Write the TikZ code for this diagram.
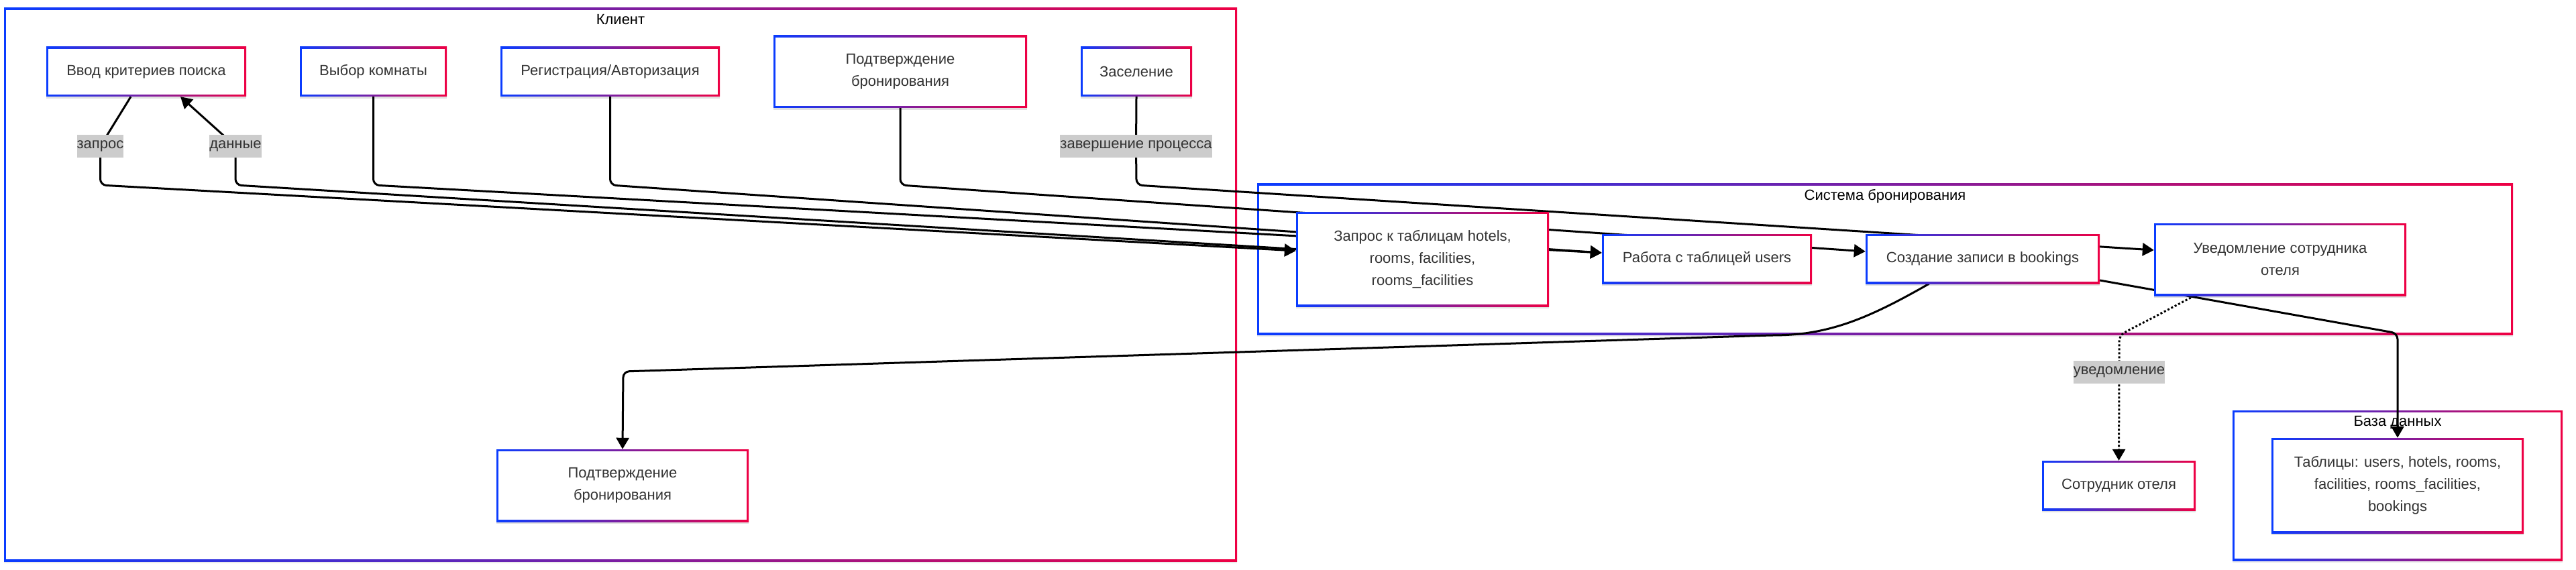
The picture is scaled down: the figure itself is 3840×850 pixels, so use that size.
\documentclass[tikz,border=0pt]{standalone}
\usepackage{fontspec}
\setmainfont{Liberation Sans}
\usetikzlibrary{arrows.meta,shadows,calc}
\definecolor{cblue}{HTML}{0A3CFF}
\definecolor{cred}{HTML}{EE0044}
\definecolor{ctext}{HTML}{333333}
\definecolor{cgray}{HTML}{CCCCCC}
\pgfdeclarelayer{bg}
\pgfdeclarelayer{edges}
\pgfsetlayers{bg,edges,main}
\newcommand{\dfont}{\fontsize{22pt}{33pt}\selectfont}
\tikzset{
  gbox/.style={rectangle, inner sep=0pt, align=center, text=ctext, font=\dfont,
    left color=cblue, right color=cred,
    drop shadow={opacity=0.12, shadow xshift=0pt, shadow yshift=-3pt, fill=black},
    path picture={\fill[white] ([shift={(3pt,-3pt)}]path picture bounding box.north west) rectangle ([shift={(-3pt,3pt)}]path picture bounding box.south east);}},
  cluster/.style={rectangle, inner sep=0pt,
    left color=cblue, right color=cred,
    drop shadow={opacity=0.08, shadow xshift=0pt, shadow yshift=-3pt, fill=black},
    path picture={\fill[white] ([shift={(3pt,-3pt)}]path picture bounding box.north west) rectangle ([shift={(-3pt,3pt)}]path picture bounding box.south east);}},
  clabel/.style={inner sep=0pt, text=black, font=\dfont},
  elabel/.style={fill=cgray, text=ctext, inner xsep=0pt, inner ysep=0pt, minimum height=34pt, font=\dfont},
  edge/.style={draw=black, line width=3pt, rounded corners=9pt},
  arr/.style={-{Triangle[length=17pt,width=19pt]}},
}
\begin{document}
\begin{tikzpicture}[x=1pt,y=-1pt]
\useasboundingbox (0,0) rectangle (3840,850);
% clusters
\begin{pgfonlayer}{bg}
\fill[white] (0,0) rectangle (3840,850);
\node[cluster, minimum width=1838pt, minimum height=825pt] (client) at (925,424.5) {};
\node[cluster, minimum width=1872pt, minimum height=225pt] (sys) at (2810,386.5) {};
\node[cluster, minimum width=492pt, minimum height=224pt] (db) at (3574,724) {};
\node[clabel] (clientlbl) at (925,29) {Клиент};
\node[clabel] (syslbl) at (2810,293) {Система бронирования};
\node[clabel] (dblbl) at (3574,630) {База данных};
\end{pgfonlayer}
% nodes
\node[gbox, minimum width=298pt, minimum height=74pt] (A) at (218,107) {Ввод критериев поиска};
\node[gbox, minimum width=219pt, minimum height=74pt] (B) at (556.5,107) {Выбор комнаты};
\node[gbox, minimum width=327pt, minimum height=74pt] (C) at (909.5,107) {Регистрация/Авторизация};
\node[gbox, minimum width=378pt, minimum height=108pt] (D) at (1342,107) {Подтверждение\\бронирования};
\node[gbox, minimum width=166pt, minimum height=74pt] (E) at (1694,107) {Заселение};
\node[gbox, minimum width=377pt, minimum height=141pt] (F) at (2120.5,386.5) {Запрос к таблицам hotels,\\rooms, facilities,\\rooms\_facilities};
\node[gbox, minimum width=313pt, minimum height=74pt] (G) at (2544.5,386) {Работа с таблицей users};
\node[gbox, minimum width=349pt, minimum height=74pt] (H) at (2955.5,386) {Создание записи в bookings};
\node[gbox, minimum width=376pt, minimum height=108pt] (I) at (3399,387) {Уведомление сотрудника\\отеля};
\node[gbox, minimum width=376pt, minimum height=108pt] (J) at (928,724) {Подтверждение\\бронирования};
\node[gbox, minimum width=229pt, minimum height=74pt] (K) at (3158.5,724) {Сотрудник отеля};
\node[gbox, minimum width=376pt, minimum height=142pt] (L) at (3574,724) {Таблицы: users, hotels, rooms,\\facilities, rooms\_facilities,\\bookings};
% edge labels
\node[elabel] (lq) at (149.5,218) {запрос};
\node[elabel] (ld) at (351,218) {данные};
\node[elabel] (le) at (1693.5,218) {завершение процесса};
\node[elabel] (lu) at (3159,555) {уведомление};
% edges
\begin{pgfonlayer}{edges}
\draw[edge, arr] ([xshift=-23pt]A.south) -- (lq.center) -- (149.5,276) -- ([yshift=12.5pt]F.west);
\draw[edge, arr] ([yshift=15pt]F.west) -- (351,276) -- (ld.center) -- ([xshift=51pt]A.south);
\draw[edge, arr] (B.south) -- (556.5,276) -- ([yshift=9pt]G.west);
\draw[edge, arr] (C.south) -- (909.5,276) -- ([yshift=9pt]G.west);
\draw[edge, arr] (D.south) -- (1342,276) -- ([yshift=11pt]H.west);
\draw[edge, arr] (E.south) -- (le.center) -- (1694,276) -- ([yshift=14pt]I.west);
\draw[edge, arr] ([xshift=-80pt]H.south) .. controls (2790,472) and (2730,499) .. (2640,500) -- (929,554) -- (J.north);
\draw[edge, arr] ([yshift=-32pt]H.east) -- (3574,497) -- (L.north);
\draw[edge, arr, dash pattern=on 3pt off 3pt] ([xshift=-128pt]I.south) -- (3159,500) -- (lu.center) -- (K.north);
\end{pgfonlayer}
\end{tikzpicture}
\end{document}
